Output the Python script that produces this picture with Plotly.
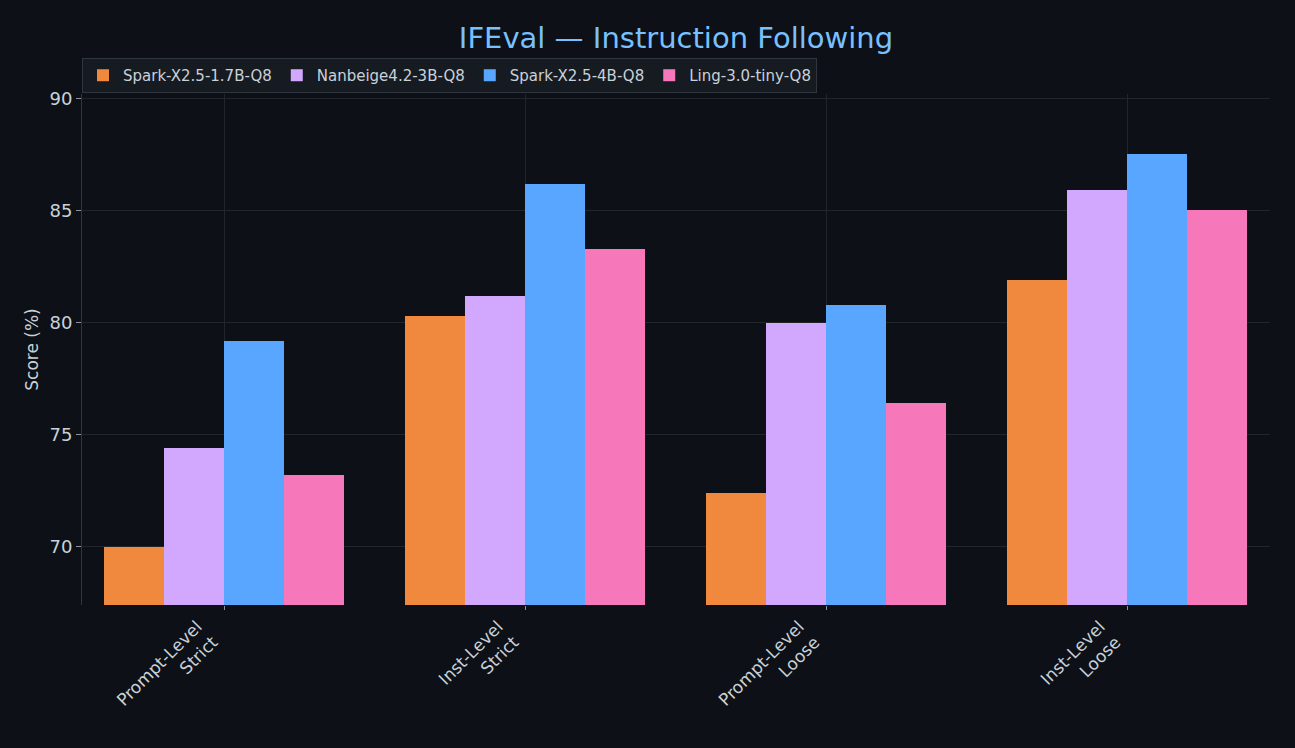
import plotly.graph_objs as go

# datos
categorias = ["Prompt-Level<br>Strict", "Inst-Level<br>Strict", "Prompt-Level<br>Loose", "Inst-Level<br>Loose"]
modelos = ["Spark-X2.5-1.7B-Q8", "Nanbeige4.2-3B-Q8", "Spark-X2.5-4B-Q8", "Ling-3.0-tiny-Q8"]
spark_17b = [70.0, 80.3, 72.4, 81.9]
nanbeige_3b = [74.4, 81.2, 80.0, 85.9]
spark_4b = [79.2, 86.2, 80.8, 87.5]
ling_tiny = [73.2, 83.3, 76.4, 85.0]
colores = ["#F0883E", "#D2A8FF", "#58A6FF", "#F778BA"]

fondo = "#0d1117"
grilla = "#21262d"
texto = "#c9d1d9"

series = [spark_17b, nanbeige_3b, spark_4b, ling_tiny]
pos = list(range(len(categorias)))

fig = go.Figure()
for nombre, vals, col, k in zip(modelos, series, colores, range(4)):
    fig.add_trace(go.Bar(
        x=[p + (k - 1.5) * 0.2 for p in pos], y=vals, name=nombre,
        marker=dict(color=col, line=dict(width=0)), width=0.2,
    ))

fig.update_layout(
    width=1295, height=748,
    paper_bgcolor=fondo, plot_bgcolor=fondo,
    font=dict(family="DejaVu Sans", color=texto, size=14),
    title=dict(text="IFEval — Instruction Following", x=0.522, xanchor="center",
               y=0.95, yanchor="middle", font=dict(size=29, color="#79c0ff")),
    margin=dict(l=82, r=25, t=94, b=143),
    barmode="overlay", bargap=0,
    showlegend=True,
    legend=dict(orientation="h", x=0, xanchor="left", y=1.002, yanchor="bottom",
                bgcolor="#161b22", bordercolor="#30363d", borderwidth=1,
                font=dict(size=15, color=texto), itemsizing="constant",
                tracegroupgap=0, itemwidth=30),
    xaxis=dict(range=[-0.472, 3.475], tickmode="array", tickvals=pos, ticktext=categorias,
               tickangle=-45, showgrid=True, gridcolor=grilla, gridwidth=1,
               ticks="outside", ticklen=4, tickcolor="#8b949e", zeroline=False,
               showline=False, tickfont=dict(size=17, color=texto),
               ticklabelshift=-27),
    yaxis=dict(range=[67.41, 90.19], tickvals=[70, 75, 80, 85, 90], showgrid=True,
               gridcolor=grilla, gridwidth=1, ticks="outside", ticklen=5,
               tickcolor="#8b949e", zeroline=False, showline=True, linecolor="#30363d",
               title=dict(text="Score (%)", font=dict(size=17, color=texto), standoff=6),
               tickfont=dict(size=18, color=texto)),
)

# quitar el margen blanco del body
fig.write_html("out.html", config={"displayModeBar": False},
               post_script="document.body.style.margin='0';document.body.style.background='#0d1117';")
